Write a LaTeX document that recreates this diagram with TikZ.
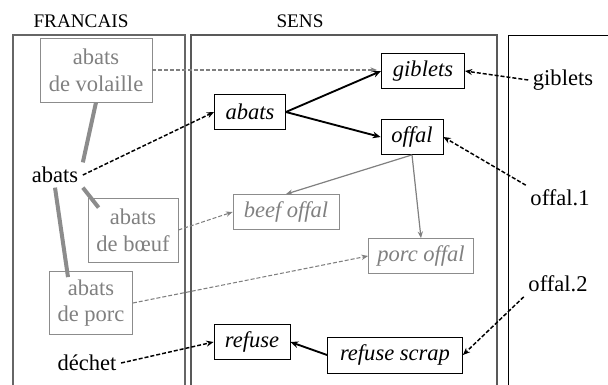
\documentclass[tikz,border=0pt]{standalone}
\usepackage{fontspec}
\setmainfont{Liberation Serif}
\usetikzlibrary{arrows.meta}

\begin{document}
\begin{tikzpicture}[x=0.75pt,y=-0.75pt,
  font=\fontsize{16.9}{20}\selectfont,
  sensbox/.style={draw,line width=0.6pt,inner sep=1pt,minimum height=26.25pt,font=\fontsize{16.9}{20}\selectfont\itshape},
  greysens/.style={sensbox,draw=black!45,text=black!50},
  greybox/.style={draw=black!45,text=black!50,line width=0.6pt,align=center,inner sep=1pt},
  link/.style={line width=1.1pt,dash pattern=on 3pt off 1.5pt,-{Stealth[length=5.5pt,width=4.5pt]}},
  greylink/.style={black!50,line width=0.8pt,dash pattern=on 3pt off 1.5pt,-{Stealth[length=5pt,width=4pt]}},
  rel/.style={line width=1.4pt,-{Stealth[length=6pt,width=5pt]}},
  greyrel/.style={black!50,line width=0.9pt,-{Stealth[length=5pt,width=4pt]}},
  trans/.style={black!45,line width=3pt}]
\clip (0,0) rectangle (608,385);
% panels
\draw[black!60,line width=0.9pt] (13,35) rectangle (185,395);
\draw[black!65,line width=0.9pt] (191,35) rectangle (497,395);
\draw[line width=0.6pt] (508,35) rectangle (640,395);
\node[font=\fontsize{14.4}{17}\selectfont] (tfr) at (81,21) {FRANCAIS};
\node[font=\fontsize{14.4}{17}\selectfont] (tsens) at (300,21) {SENS};

% french words
\node[greybox,minimum width=84pt,minimum height=48pt] (fvol) at (96,70) {abats\\de volaille};
\node (fab) at (55,175) {abats};
\node[greybox,minimum width=67.5pt,minimum height=48pt] (fboe) at (133,230) {abats\\de bœuf};
\node[greybox,minimum width=62.25pt,minimum height=47.25pt] (fpor) at (91,303) {abats\\de porc};
\node (fdec) at (87,363) {déchet};

% senses
\node[sensbox,minimum width=62.25pt] (sgib) at (423,71) {giblets};
\node[sensbox,minimum width=53.25pt] (sab) at (250,112) {abats};
\node[sensbox,minimum width=46.5pt] (soff) at (412,137) {offal};
\node[greysens,minimum width=79.5pt] (sbeef) at (286,212) {beef offal};
\node[greysens,minimum width=78.75pt] (spor) at (421,256) {porc offal};
\node[sensbox,minimum width=57pt] (sref) at (252,342) {refuse};
\node[sensbox,minimum width=101.25pt,minimum height=27pt] (sscr) at (395,355) {refuse scrap};

% english words
\node (egib) at (563,80) {giblets};
\node (eof1) at (560,198) {offal.1};
\node (eof2) at (558,284) {offal.2};

\draw[trans] (fvol.south) -- (fab.north east);
\draw[trans] (fab.south) -- ([shift={(-23,6)}]fpor.north);
\draw[trans] (fab.south east) -- ([shift={(11,10)}]fboe.north west);

\draw[greylink,shorten >=3pt] (fvol.east) -- (fvol.east -| sgib.west);
\draw[link] (fab.east) -- (sab.west);
\draw[rel] (sab.east) -- (sgib.west);
\draw[rel] (sab.east) -- (soff.west);
\draw[greyrel] (soff.south) -- (sbeef.north);
\draw[greyrel] (soff.south) -- (spor.north);
\draw[greylink] (fboe.east) -- (sbeef.west);
\draw[greylink] (fpor.east) -- (spor.west);
\draw[link] (fdec.east) -- (sref.west);
\draw[rel] (sscr.west) -- (sref.east);
\draw[link] (egib.west) -- (sgib.east);
\draw[link] (eof1.north west) -- (soff.east);
\draw[link] (eof2.south west) -- (sscr.east);
\end{tikzpicture}
\end{document}
